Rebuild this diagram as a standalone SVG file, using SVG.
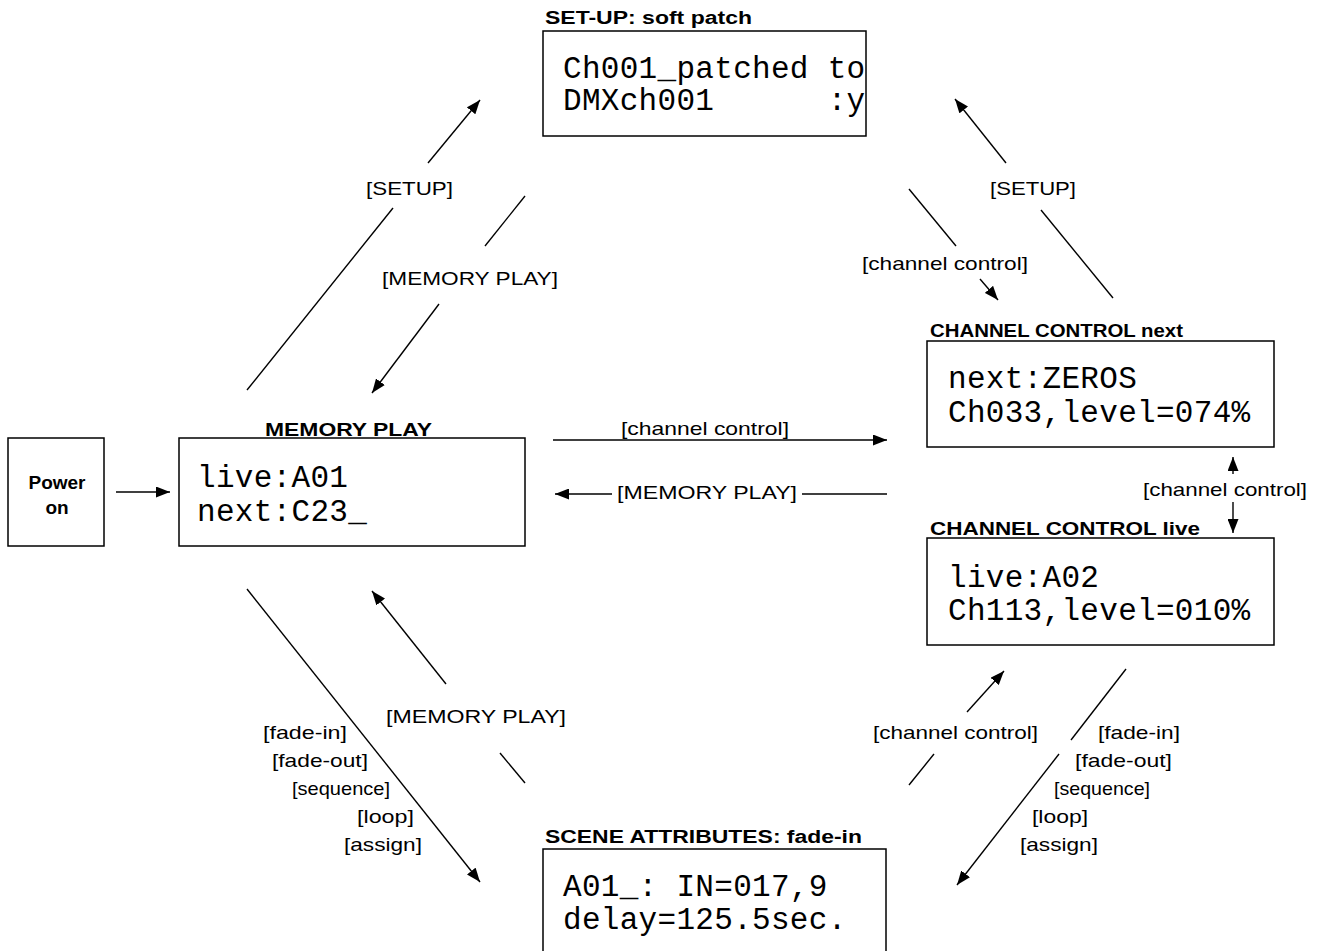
<svg xmlns="http://www.w3.org/2000/svg" width="1326" height="951" viewBox="0 0 1326 951">
<style>
.box{fill:#fff;stroke:#000;stroke-width:1.5}
.ttl{font-family:"Liberation Sans",Arial,sans-serif;font-weight:bold;font-size:18px;fill:#000}
.pw{font-family:"Liberation Sans",Arial,sans-serif;font-weight:bold;font-size:19px;fill:#000}
.lcd{font-family:"Liberation Mono","DejaVu Sans Mono",monospace;font-size:31px;letter-spacing:0.3px;fill:#000;white-space:pre}
.lbl{font-family:"Liberation Sans",Arial,sans-serif;font-size:19px;fill:#000}
.ln{stroke:#000;stroke-width:1.4;fill:none}
.arr{marker-end:url(#ah)}
</style>
<defs>
<marker id="ah" markerUnits="userSpaceOnUse" markerWidth="14" markerHeight="11" refX="14" refY="5.5" orient="auto">
<path d="M0,0 L14,5.5 L0,11 z" fill="#000"/>
</marker>
</defs>
<rect width="1326" height="951" fill="#fff"/>

<g id="power-on">
<rect class="box" x="8" y="438" width="96" height="108"/>
<text class="pw" x="57" y="489" text-anchor="middle">Power</text>
<text class="pw" x="57" y="514" text-anchor="middle">on</text>
</g>

<g id="memory-play">
<text class="ttl" x="265" y="436" textLength="167" lengthAdjust="spacingAndGlyphs">MEMORY PLAY</text>
<rect class="box" x="179" y="438" width="346" height="108"/>
<text class="lcd" x="197" y="487">live:A01</text>
<text class="lcd" x="197" y="521">next:C23_</text>
</g>

<g id="setup-soft-patch">
<text class="ttl" x="545" y="24" textLength="207" lengthAdjust="spacingAndGlyphs">SET-UP: soft patch</text>
<rect class="box" x="543" y="31" width="323" height="105"/>
<text class="lcd" x="563" y="78">Ch001_patched to</text>
<text class="lcd" x="563" y="110">DMXch001      :y</text>
</g>

<g id="channel-control-next">
<text class="ttl" x="930" y="337" textLength="253" lengthAdjust="spacingAndGlyphs">CHANNEL CONTROL next</text>
<rect class="box" x="927" y="341" width="347" height="106"/>
<text class="lcd" x="948" y="388">next:ZEROS</text>
<text class="lcd" x="948" y="422">Ch033,level=074%</text>
</g>

<g id="channel-control-live">
<text class="ttl" x="930" y="535" textLength="270" lengthAdjust="spacingAndGlyphs">CHANNEL CONTROL live</text>
<rect class="box" x="927" y="538" width="347" height="107"/>
<text class="lcd" x="948" y="587">live:A02</text>
<text class="lcd" x="948" y="620">Ch113,level=010%</text>
</g>

<g id="scene-attributes">
<text class="ttl" x="545" y="843" textLength="317" lengthAdjust="spacingAndGlyphs">SCENE ATTRIBUTES: fade-in</text>
<rect class="box" x="543" y="849" width="343" height="120"/>
<text class="lcd" x="563" y="896">A01_: IN=017,9</text>
<text class="lcd" x="563" y="929">delay=125.5sec.</text>
</g>

<g id="connectors">
<line class="ln arr" x1="116" y1="492" x2="170" y2="492"/>
<line class="ln" x1="247" y1="390" x2="393" y2="208"/>
<line class="ln arr" x1="428" y1="163" x2="480" y2="100"/>
<text class="lbl" x="366" y="195" textLength="87" lengthAdjust="spacingAndGlyphs">[SETUP]</text>
<line class="ln" x1="525" y1="196" x2="485" y2="246"/>
<line class="ln arr" x1="439" y1="304" x2="372" y2="393"/>
<text class="lbl" x="382" y="285" textLength="176" lengthAdjust="spacingAndGlyphs">[MEMORY PLAY]</text>
<line class="ln" x1="1113" y1="298" x2="1041" y2="210"/>
<line class="ln arr" x1="1006" y1="163" x2="955" y2="99"/>
<text class="lbl" x="990" y="195" textLength="86" lengthAdjust="spacingAndGlyphs">[SETUP]</text>
<line class="ln" x1="909" y1="189" x2="956" y2="246"/>
<line class="ln arr" x1="980" y1="279" x2="998" y2="300"/>
<text class="lbl" x="862" y="270" textLength="166" lengthAdjust="spacingAndGlyphs">[channel control]</text>
<line class="ln arr" x1="553" y1="440" x2="887" y2="440"/>
<text class="lbl" x="621" y="435" textLength="168" lengthAdjust="spacingAndGlyphs">[channel control]</text>
<line class="ln" x1="887" y1="494" x2="802" y2="494"/>
<line class="ln arr" x1="612" y1="494" x2="555" y2="494"/>
<text class="lbl" x="617" y="499" textLength="180" lengthAdjust="spacingAndGlyphs">[MEMORY PLAY]</text>
<line class="ln arr" x1="1233" y1="474" x2="1233" y2="457"/>
<line class="ln arr" x1="1233" y1="502" x2="1233" y2="533"/>
<text class="lbl" x="1143" y="496" textLength="164" lengthAdjust="spacingAndGlyphs">[channel control]</text>
<line class="ln arr" x1="247" y1="589" x2="480" y2="882"/>
<text class="lbl" x="263" y="739" textLength="84" lengthAdjust="spacingAndGlyphs">[fade-in]</text>
<text class="lbl" x="272" y="767" textLength="96" lengthAdjust="spacingAndGlyphs">[fade-out]</text>
<text class="lbl" x="292" y="795" textLength="98" lengthAdjust="spacingAndGlyphs">[sequence]</text>
<text class="lbl" x="357" y="823" textLength="57" lengthAdjust="spacingAndGlyphs">[loop]</text>
<text class="lbl" x="344" y="851" textLength="78" lengthAdjust="spacingAndGlyphs">[assign]</text>
<line class="ln" x1="525" y1="783" x2="500" y2="753"/>
<line class="ln arr" x1="446" y1="684" x2="372" y2="591"/>
<text class="lbl" x="386" y="723" textLength="180" lengthAdjust="spacingAndGlyphs">[MEMORY PLAY]</text>
<line class="ln" x1="909" y1="785" x2="934" y2="754"/>
<line class="ln arr" x1="967" y1="712" x2="1004" y2="671"/>
<text class="lbl" x="873" y="739" textLength="165" lengthAdjust="spacingAndGlyphs">[channel control]</text>
<line class="ln" x1="1126" y1="669" x2="1071" y2="740"/>
<line class="ln arr" x1="1059" y1="754" x2="957" y2="885"/>
<text class="lbl" x="1098" y="739" textLength="82" lengthAdjust="spacingAndGlyphs">[fade-in]</text>
<text class="lbl" x="1075" y="767" textLength="97" lengthAdjust="spacingAndGlyphs">[fade-out]</text>
<text class="lbl" x="1054" y="795" textLength="96" lengthAdjust="spacingAndGlyphs">[sequence]</text>
<text class="lbl" x="1032" y="823" textLength="56" lengthAdjust="spacingAndGlyphs">[loop]</text>
<text class="lbl" x="1020" y="851" textLength="78" lengthAdjust="spacingAndGlyphs">[assign]</text>
</g>
</svg>
